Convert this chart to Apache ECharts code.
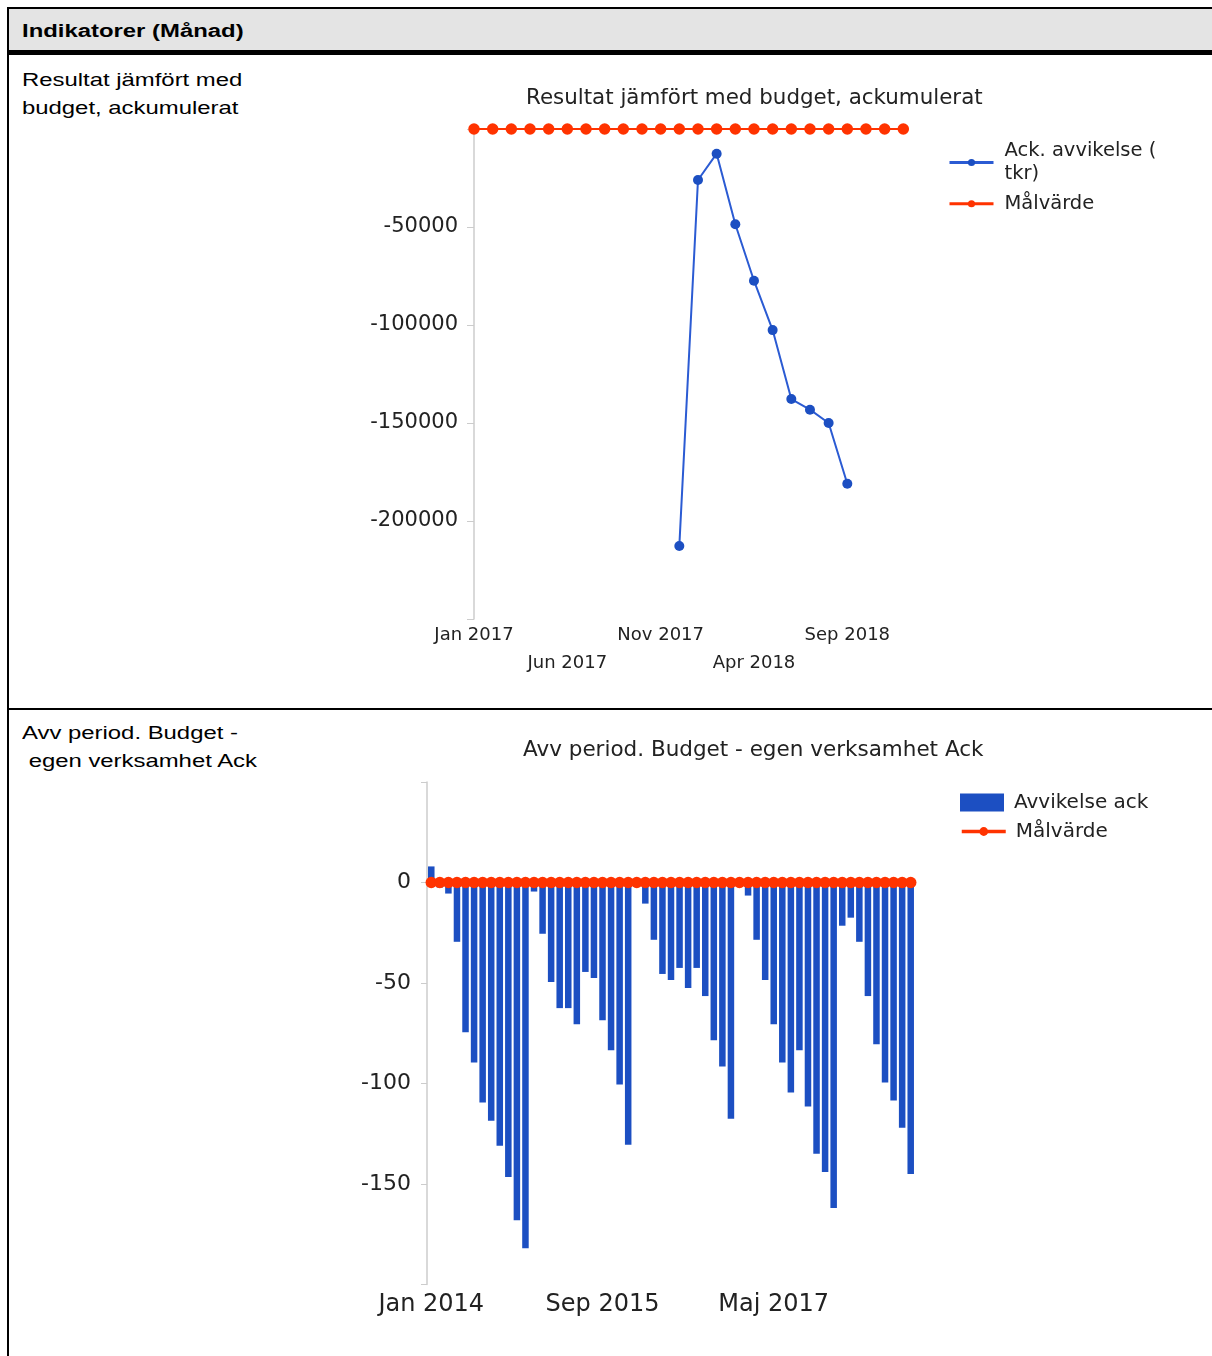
<!DOCTYPE html>
<html>
<head>
<meta charset="utf-8">
<script src="https://cdn.jsdelivr.net/npm/echarts@6/dist/echarts.min.js"></script>
<style>
html,body{margin:0;padding:0;background:#fff;width:1212px;height:1356px;overflow:hidden;font-family:Arial,"Liberation Sans",sans-serif;}
.bt{position:absolute;left:7px;top:7px;width:1205px;height:2px;background:#000;}
.bl{position:absolute;left:7px;top:7px;width:2px;height:1349px;background:#000;}
.hd{position:absolute;left:9px;top:9px;width:1203px;height:41px;background:#e4e4e4;}
.hl{position:absolute;left:9px;top:50px;width:1203px;height:5px;background:#000;}
.rl{position:absolute;left:9px;top:708px;width:1203px;height:2px;background:#000;}
.txt{position:absolute;left:21.5px;font-size:18.67px;color:#000;transform:scaleX(1.28);transform-origin:0 0;white-space:pre;}
#c1{position:absolute;left:300px;top:60px;width:912px;height:645px;}
#c2{position:absolute;left:300px;top:712px;width:912px;height:640px;}
</style>
</head>
<body>
<div class="bt"></div>
<div class="bl"></div>
<div class="hd"></div>
<div class="hl"></div>
<div class="rl"></div>
<div class="txt" style="top:19.5px;line-height:22px;font-weight:bold;">Indikatorer (Månad)</div>
<div class="txt" style="top:66px;line-height:28px;">Resultat jämfört med
budget, ackumulerat</div>
<div class="txt" style="top:719px;line-height:27.5px;">Avv period. Budget -
 egen verksamhet Ack</div>
<div id="c1"></div>
<div id="c2"></div>
<script>
// ---- Chart 1 data ----
const topCategories = ['Jan 2017','Feb 2017','Mar 2017','Apr 2017','Maj 2017','Jun 2017','Jul 2017','Aug 2017','Sep 2017','Okt 2017','Nov 2017','Dec 2017',
  'Jan 2018','Feb 2018','Mar 2018','Apr 2018','Maj 2018','Jun 2018','Jul 2018','Aug 2018','Sep 2018','Okt 2018','Nov 2018','Dec 2018'];
const ackAvvikelse = [null,null,null,null,null,null,null,null,null,null,null,-212800,
  -26000,-12600,-48600,-77400,-102600,-137800,-143200,-150000,-181000,null,null,null];
const malvardeTop = [0,0,0,0,0,0,0,0,0,0,0,0,0,0,0,0,0,0,0,0,0,0,0,0];
const topTitle = 'Resultat jämfört med budget, ackumulerat';
const topSeriesNames = ['Ack. avvikelse (tkr)', 'Målvärde'];

// ---- Chart 2 data ----
const bottomCategories = [
  'Jan 2014','Feb 2014','Mar 2014','Apr 2014','Maj 2014','Jun 2014','Jul 2014','Aug 2014','Sep 2014','Okt 2014','Nov 2014','Dec 2014',
  'Jan 2015','Feb 2015','Mar 2015','Apr 2015','Maj 2015','Jun 2015','Jul 2015','Aug 2015','Sep 2015','Okt 2015','Nov 2015','Dec 2015',
  'Jan 2016','Feb 2016','Mar 2016','Apr 2016','Maj 2016','Jun 2016','Jul 2016','Aug 2016','Sep 2016','Okt 2016','Nov 2016','Dec 2016',
  'Jan 2017','Feb 2017','Mar 2017','Apr 2017','Maj 2017','Jun 2017','Jul 2017','Aug 2017','Sep 2017','Okt 2017','Nov 2017','Dec 2017',
  'Jan 2018','Feb 2018','Mar 2018','Apr 2018','Maj 2018','Jun 2018','Jul 2018','Aug 2018','Sep 2018'];
const avvikelseAck = [
  8,-2.5,-5.5,-29.5,-74.5,-89.5,-109.5,-118.5,-131,-146.5,-168,-182,
  -4.5,-25.5,-49.5,-62.5,-62.5,-70.5,-44.5,-47.5,-68.5,-83.5,-100.5,-130.5,
  0,-10.5,-28.5,-45.5,-48.5,-42.5,-52.5,-42.5,-56.5,-78.5,-91.5,-117.5,
  0,-6.5,-28.5,-48.5,-70.5,-89.5,-104.5,-83.5,-111.5,-135,-144,-162,
  -21.5,-17.5,-29.5,-56.5,-80.5,-99.5,-108.5,-122,-145];
const malvardeBottom = [
  0,0,0,0,0,0,0,0,0,0,0,0,0,0,0,0,0,0,0,0,0,0,0,0,0,0,0,0,0,
  0,0,0,0,0,0,0,0,0,0,0,0,0,0,0,0,0,0,0,0,0,0,0,0,0,0,0,0];
const bottomTitle = 'Avv period. Budget - egen verksamhet Ack';
const bottomSeriesNames = ['Avvikelse ack', 'Målvärde'];

const FONT = 'DejaVu Sans';
const BLUE = '#1c4fc2';
const RED = '#ff3300';
const AXIS = '#cccccc';
const TXT = '#222222';

const c1 = echarts.init(document.getElementById('c1'));
c1.setOption({
  animation: false,
  textStyle: {fontFamily: FONT},
  title: {text: topTitle, left: 226, top: 28, padding: 0,
    textStyle: {fontSize: 21.4, fontWeight: 'normal', color: TXT, fontFamily: FONT}},
  legend: {orient: 'vertical', left: 648, top: 79, padding: 0, itemGap: 6,
    itemWidth: 44, itemHeight: 9, data: topSeriesNames,
    formatter: n => n === topSeriesNames[0] ? 'Ack. avvikelse (\ntkr)' : n,
    textStyle: {fontSize: 19.5, lineHeight: 23.5, color: TXT, fontFamily: FONT, padding: [0,0,0,6]},
    lineStyle: {width: 3}},
  grid: {left: 174, top: 69, width: 429.3, height: 490},
  xAxis: {type: 'category', boundaryGap: false, data: topCategories,
    axisLine: {lineStyle: {color: AXIS, width: 1.5}}, axisTick: {show: false},
    axisLabel: {interval: 4, margin: 2, fontSize: 18, lineHeight: 28, color: TXT, fontFamily: FONT,
      formatter: (v, i) => (i % 10 === 5 ? '\n' + v : v)}},
  yAxis: {type: 'value', min: -250000, max: 0, interval: 50000,
    axisLine: {show: true, lineStyle: {color: AXIS, width: 1.5}},
    axisTick: {show: true, length: 7, lineStyle: {color: AXIS}},
    splitLine: {show: false},
    axisLabel: {margin: 16, fontSize: 21, color: TXT, fontFamily: FONT,
      formatter: v => (v === 0 || v === -250000) ? '' : String(v)}},
  series: [
    {name: topSeriesNames[0], type: 'line', data: ackAvvikelse, symbol: 'circle', symbolSize: 10,
      showAllSymbol: true,
      lineStyle: {color: '#2b5bd3', width: 2}, itemStyle: {color: BLUE}},
    {name: topSeriesNames[1], type: 'line', data: malvardeTop, symbol: 'circle', symbolSize: 11.5,
      showAllSymbol: true,
      lineStyle: {color: RED, width: 2}, itemStyle: {color: RED}}
  ]
});

const c2 = echarts.init(document.getElementById('c2'));
c2.setOption({
  animation: false,
  textStyle: {fontFamily: FONT},
  title: {text: bottomTitle, left: 223, top: 27, padding: 0,
    textStyle: {fontSize: 21.5, fontWeight: 'normal', color: TXT, fontFamily: FONT}},
  legend: [
    {orient: 'vertical', left: 660, top: 79.5, padding: 0, itemWidth: 44, itemHeight: 18,
      icon: 'rect', data: [bottomSeriesNames[0]],
      textStyle: {fontSize: 20, lineHeight: 22, color: TXT, fontFamily: FONT, padding: [0,0,0,5]}},
    {orient: 'vertical', left: 660, top: 108.5, padding: 0, itemWidth: 44, itemHeight: 11,
      data: [bottomSeriesNames[1]], lineStyle: {width: 3.5},
      textStyle: {fontSize: 20, lineHeight: 22, color: TXT, fontFamily: FONT, padding: [0,0,0,5]}}
  ],
  grid: {left: 127, top: 70, width: 488, height: 502.5},
  xAxis: {type: 'category', data: bottomCategories,
    axisLine: {lineStyle: {color: AXIS, width: 1.5}}, axisTick: {show: false},
    axisLabel: {interval: 19, margin: 8, fontSize: 24, color: TXT, fontFamily: FONT}},
  yAxis: {type: 'value', min: -200, max: 50, interval: 50,
    axisLine: {show: true, lineStyle: {color: AXIS, width: 1.5}},
    axisTick: {show: true, length: 6, lineStyle: {color: AXIS}},
    splitLine: {show: false},
    axisLabel: {margin: 16, fontSize: 22, color: TXT, fontFamily: FONT,
      formatter: v => (v === 50 || v === -200) ? '' : String(v)}},
  series: [
    {name: bottomSeriesNames[0], type: 'bar', data: avvikelseAck, barWidth: '76%',
      itemStyle: {color: BLUE}},
    {name: bottomSeriesNames[1], type: 'line', data: malvardeBottom, symbol: 'circle', symbolSize: 11.5,
      showAllSymbol: true,
      lineStyle: {color: RED, width: 3}, itemStyle: {color: RED}, z: 3}
  ]
});
</script>
</body>
</html>
